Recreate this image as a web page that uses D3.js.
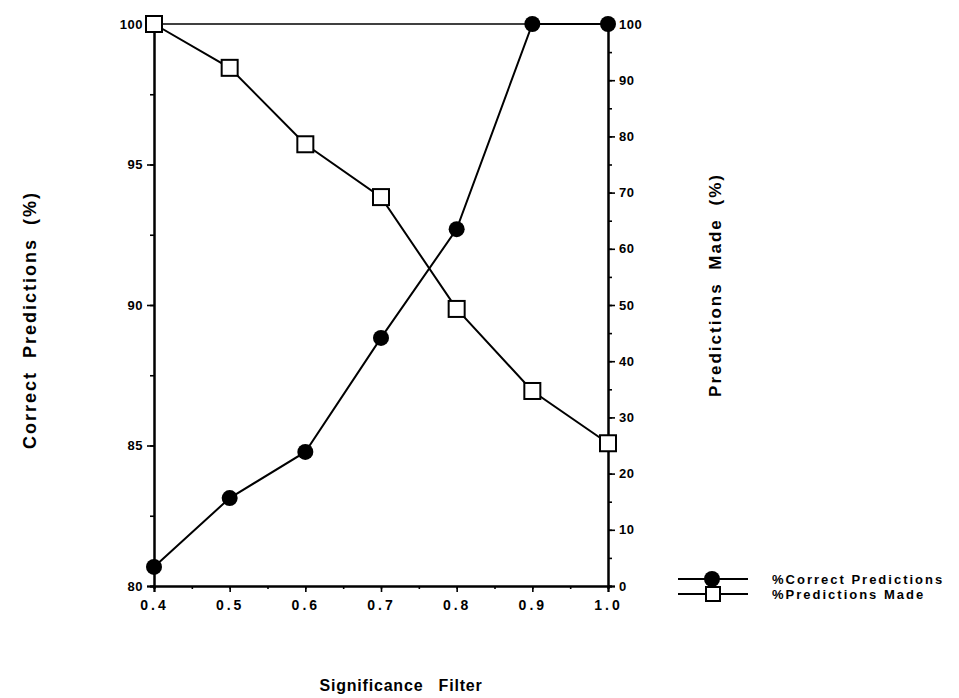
<!DOCTYPE html>
<html>
<head>
<meta charset="utf-8">
<script src="https://cdn.jsdelivr.net/npm/d3@7"></script>
<style>
  body { margin: 0; background: #fff; }
  svg { font-family: "Liberation Sans", Arial, sans-serif; font-weight: bold; }
</style>
</head>
<body>
<div id="chart"></div>
<script>
const filters = [0.4, 0.5, 0.6, 0.7, 0.8, 0.9, 1.0];
const correctPct = [80.68, 83.13, 84.77, 88.83, 92.7, 100, 100];
const madePct = [100, 92.2, 78.6, 69.2, 49.3, 34.7, 25.4];
const xTicks = [0.4, 0.5, 0.6, 0.7, 0.8, 0.9, 1.0];
const leftTicks = [80, 85, 90, 95, 100];
const rightTicks = [0, 10, 20, 30, 40, 50, 60, 70, 80, 90, 100];
const legendLabels = ["%Correct Predictions", "%Predictions Made"];

const width = 959, height = 698;
let margin = ({top: 24, right: 351, bottom: 112, left: 154});

const svg = d3.select("#chart").append("svg")
    .attr("width", width)
    .attr("height", height);

let x = d3.scaleLinear()
    .domain([0.4, 1.0])
    .range([margin.left, width - margin.right]);

let yL = d3.scaleLinear()
    .domain([80, 100])
    .range([height - margin.bottom, margin.top]);

let yR = d3.scaleLinear()
    .domain([0, 100])
    .range([height - margin.bottom, margin.top]);

const tickStyle = g => g
    .call(g => g.selectAll("line").attr("stroke", "#000").attr("stroke-width", 1.6))
    .call(g => g.select(".domain").attr("stroke", "#000").attr("stroke-width", 2))
    .call(g => g.selectAll("text").attr("fill", "#000").attr("font-size", "13px")
        .attr("font-weight", "bold").attr("letter-spacing", "0.5px"));

// minor ticks first
svg.append("g")
    .attr("transform", `translate(${margin.left},0)`)
    .call(d3.axisLeft(yL).tickValues(d3.range(80, 100.1, 2.5)).tickSize(4).tickFormat(""))
    .call(tickStyle);
svg.append("g")
    .attr("transform", `translate(${width - margin.right},0)`)
    .call(d3.axisRight(yR).tickValues(d3.range(0, 100.1, 5)).tickSize(4).tickFormat(""))
    .call(tickStyle);
svg.append("g")
    .attr("transform", `translate(0,${height - margin.bottom})`)
    .call(d3.axisBottom(x).tickValues(d3.range(0.4, 1.01, 0.05)).tickSize(3).tickFormat(""))
    .call(tickStyle);

// major ticks
svg.append("g")
    .attr("transform", `translate(${margin.left},0)`)
    .call(d3.axisLeft(yL).tickValues(leftTicks).tickSize(7).tickPadding(4).tickFormat(d3.format("d")))
    .call(tickStyle);
svg.append("g")
    .attr("transform", `translate(${width - margin.right},0)`)
    .call(d3.axisRight(yR).tickValues(rightTicks).tickSize(7).tickPadding(4).tickFormat(d3.format("d")))
    .call(tickStyle);
svg.append("g")
    .attr("transform", `translate(0,${height - margin.bottom})`)
    .call(d3.axisBottom(x).tickValues(xTicks).tickSize(6).tickPadding(8).tickFormat(d3.format(".1f")))
    .call(tickStyle)
    .call(g => g.selectAll("text").attr("font-size", "14px").attr("letter-spacing", "3px"));

// top frame
svg.append("line")
    .attr("x1", margin.left).attr("x2", width - margin.right)
    .attr("y1", margin.top).attr("y2", margin.top)
    .attr("stroke", "#000").attr("stroke-width", 1.6);

const rows = filters.map((f, i) => ({f: f, c: correctPct[i], m: madePct[i]}));

svg.append("path")
    .datum(rows)
    .attr("fill", "none").attr("stroke", "#000").attr("stroke-width", 2)
    .attr("d", d3.line().x(d => x(d.f)).y(d => yR(d.m)));

svg.append("path")
    .datum(rows)
    .attr("fill", "none").attr("stroke", "#000").attr("stroke-width", 2)
    .attr("d", d3.line().x(d => x(d.f)).y(d => yL(d.c)));

svg.append("g").selectAll("rect")
    .data(rows).enter().append("rect")
    .attr("x", d => x(d.f) - 8).attr("y", d => yR(d.m) - 8)
    .attr("width", 16).attr("height", 16)
    .attr("fill", "#fff").attr("stroke", "#000").attr("stroke-width", 2);

svg.append("g").selectAll("circle")
    .data(rows).enter().append("circle")
    .attr("cx", d => x(d.f)).attr("cy", d => yL(d.c))
    .attr("r", 8).attr("fill", "#000");

// axis titles
svg.append("text")
    .attr("transform", "translate(36,320) rotate(-90)")
    .attr("text-anchor", "middle")
    .attr("font-size", "18px")
    .attr("letter-spacing", "2px")
    .attr("word-spacing", "6px")
    .text("Correct Predictions (%)");

svg.append("text")
    .attr("transform", "translate(721,285) rotate(-90)")
    .attr("text-anchor", "middle")
    .attr("font-size", "17px")
    .attr("letter-spacing", "2px")
    .attr("word-spacing", "6px")
    .text("Predictions Made (%)");

svg.append("text")
    .attr("x", 401).attr("y", 691)
    .attr("text-anchor", "middle")
    .attr("font-size", "16px")
    .attr("letter-spacing", "0.8px")
    .attr("word-spacing", "10px")
    .text("Significance Filter");

// legend
const legend = svg.append("g").attr("transform", "translate(678,579)");
legendLabels.forEach((lab, i) => {
  let g = legend.append("g").attr("transform", `translate(0,${i * 15})`);
  g.append("line").attr("x1", 0).attr("x2", 70).attr("y1", 0).attr("y2", 0)
    .attr("stroke", "#000").attr("stroke-width", 2);
  if (i === 0) {
    g.append("circle").attr("cx", 34).attr("cy", 0).attr("r", 8).attr("fill", "#000");
  } else {
    g.append("rect").attr("x", 28).attr("y", -7).attr("width", 14).attr("height", 14)
      .attr("fill", "#fff").attr("stroke", "#000").attr("stroke-width", 2);
  }
  g.append("text").attr("x", 94).attr("y", 5)
    .attr("font-size", "13px")
    .attr("letter-spacing", "2px")
    .text(lab);
});
</script>
</body>
</html>
